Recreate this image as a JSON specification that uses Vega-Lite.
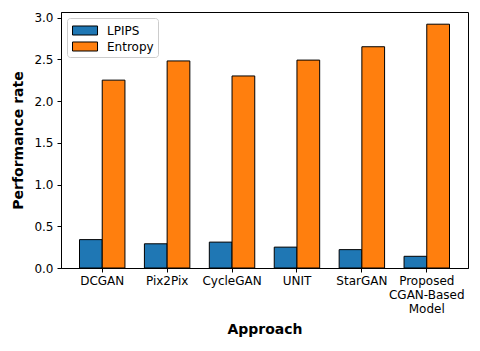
{
  "$schema": "https://vega.github.io/schema/vega-lite/v6.json",
  "width": 407,
  "height": 256,
  "autosize": {"type": "none"},
  "padding": {"left": 61, "top": 12, "right": 12, "bottom": 83},
  "background": "white",
  "data": {
    "values": [
      {"approach": "DCGAN", "metric": "LPIPS", "value": 0.34},
      {"approach": "DCGAN", "metric": "Entropy", "value": 2.25},
      {"approach": "Pix2Pix", "metric": "LPIPS", "value": 0.29},
      {"approach": "Pix2Pix", "metric": "Entropy", "value": 2.48},
      {"approach": "CycleGAN", "metric": "LPIPS", "value": 0.31},
      {"approach": "CycleGAN", "metric": "Entropy", "value": 2.30},
      {"approach": "UNIT", "metric": "LPIPS", "value": 0.25},
      {"approach": "UNIT", "metric": "Entropy", "value": 2.49},
      {"approach": "StarGAN", "metric": "LPIPS", "value": 0.22},
      {"approach": "StarGAN", "metric": "Entropy", "value": 2.65},
      {"approach": "Proposed\nCGAN-Based\nModel", "metric": "LPIPS", "value": 0.14},
      {"approach": "Proposed\nCGAN-Based\nModel", "metric": "Entropy", "value": 2.92}
    ]
  },
  "mark": {"type": "bar", "stroke": "black", "strokeWidth": 1},
  "encoding": {
    "x": {
      "field": "approach",
      "type": "nominal",
      "sort": null,
      "scale": {"paddingInner": 0.3, "paddingOuter": 0.285},
      "axis": {
        "title": "Approach",
        "labelAngle": 0,
        "labelExpr": "split(datum.label, '\\n')",
        "labelLineHeight": 14,
        "labelPadding": 3.5,
        "titleY": 65,
        "titleBaseline": "alphabetic"
      }
    },
    "xOffset": {
      "field": "metric",
      "type": "nominal",
      "sort": ["LPIPS", "Entropy"],
      "scale": {"paddingInner": 0, "paddingOuter": 0}
    },
    "y": {
      "field": "value",
      "type": "quantitative",
      "scale": {"domain": [0, 3.066], "nice": false, "zero": true},
      "axis": {
        "title": "Performance rate",
        "values": [0, 0.5, 1, 1.5, 2, 2.5, 3],
        "format": ".1f",
        "grid": false,
        "labelPadding": 4,
        "titleX": -43,
        "titleY": 128,
        "titleAngle": 270,
        "titleAlign": "center",
        "titleBaseline": "middle"
      }
    },
    "color": {
      "field": "metric",
      "type": "nominal",
      "sort": ["LPIPS", "Entropy"],
      "scale": {"domain": ["LPIPS", "Entropy"], "range": ["#1f77b4", "#ff7f0e"]},
      "legend": {
        "title": null,
        "orient": "top-left",
        "offset": 6,
        "padding": 3.5,
        "fillColor": "white",
        "strokeColor": "#cccccc",
        "cornerRadius": 3,
        "symbolType": "M-0.82,-0.53H2.12V0.53H-0.82Z",
        "symbolSize": 289,
        "symbolStrokeColor": "black",
        "symbolStrokeWidth": 1,
        "symbolOpacity": 1,
        "labelOffset": 18.5,
        "labelFontSize": 12,
        "labelFont": "DejaVu Sans",
        "labelColor": "black",
        "rowPadding": 0
      }
    }
  },
  "config": {
    "font": "DejaVu Sans",
    "view": {"stroke": "black", "strokeWidth": 1},
    "axis": {
      "labelFont": "DejaVu Sans",
      "labelFontSize": 12,
      "labelColor": "black",
      "titleFont": "DejaVu Sans",
      "titleFontSize": 14,
      "titleFontWeight": "bold",
      "titleColor": "black",
      "domainColor": "black",
      "tickColor": "black",
      "tickSize": 4,
      "grid": false
    }
  }
}
